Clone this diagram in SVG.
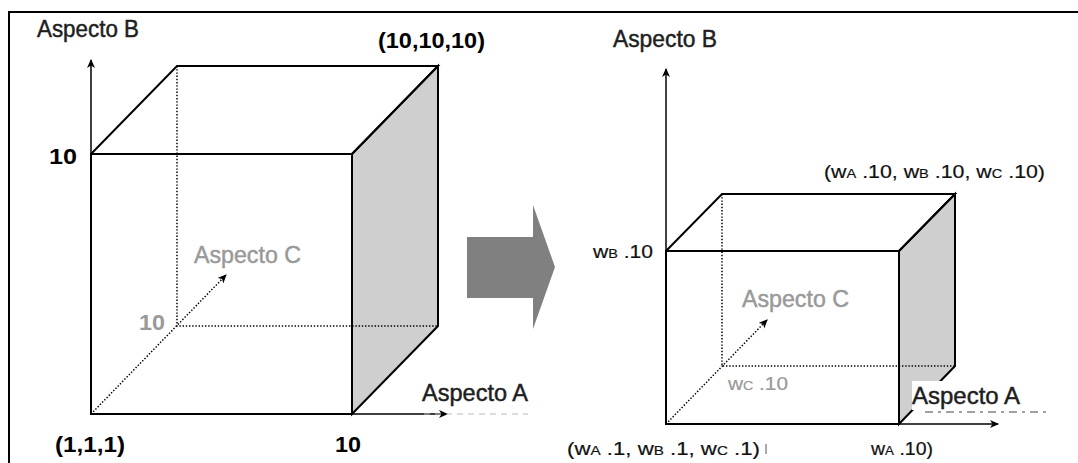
<svg xmlns="http://www.w3.org/2000/svg" width="1078" height="463" viewBox="0 0 1078 463">
  <style>
    .edge { fill: none; stroke: #000; stroke-width: 2; stroke-linejoin: miter; }
    .side { fill: #cfcfcf; stroke: #000; stroke-width: 2; }
    .axis { fill: none; stroke: #000; stroke-width: 1.5; }
    .hidden { fill: none; stroke: #000; stroke-width: 1.5; stroke-dasharray: 1.4 1.8; }
    .lbl { font-family: "Liberation Sans", Arial, sans-serif; fill: #1e1e1e; }
    .big { font-size: 23px; stroke: #1e1e1e; stroke-width: 0.45; }
    .bold { font-size: 22px; font-weight: bold; fill: #000; }
    .grey { fill: #999; stroke: #999; }
    .coord { font-size: 19px; fill: #111; stroke: #111; stroke-width: 0.2; }
    .sub { font-size: 13px; }
  </style>
  <defs>
    <marker id="tip" markerWidth="10" markerHeight="10" refX="8" refY="4" orient="auto" markerUnits="userSpaceOnUse">
      <path d="M0,0 L9,4 L0,8 L2.5,4 z" fill="#000"/>
    </marker>
  </defs>

  <!-- frame -->
  <rect x="9" y="12" width="1080" height="460" fill="#fff" stroke="#000" stroke-width="2"/>

  <!-- left cube: full 10x10x10 -->
  <g id="cube-full">
    <polygon class="side" points="352,154 438,66 438,326 352,414"/>
    <polyline class="edge" points="91,154 177,66 438,66 352,154 91,154"/>
    <rect class="edge" x="91" y="154" width="261" height="260"/>
    <polyline class="hidden" points="177,66 177,326 438,326"/>
  </g>

  <!-- right cube: weighted -->
  <g id="cube-weighted">
    <polygon class="side" points="899,251 955,194 955,366 899,424"/>
    <polyline class="edge" points="666,251 722,194 955,194 899,251 666,251"/>
    <rect class="edge" x="666" y="251" width="233" height="173"/>
    <polyline class="hidden" points="722,194 722,366 955,366"/>
  </g>

  <!-- axes -->
  <g id="connectors">
    <line class="axis" x1="91" y1="414" x2="91" y2="60" marker-end="url(#tip)"/>
    <line class="axis" x1="91" y1="414" x2="447" y2="414" marker-end="url(#tip)"/>
    <line class="hidden" x1="91" y1="414" x2="226" y2="275" marker-end="url(#tip)"/>
    <line class="axis" x1="666" y1="424" x2="666" y2="69" marker-end="url(#tip)"/>
    <line class="axis" x1="666" y1="424" x2="998" y2="424" marker-end="url(#tip)"/>
    <line class="hidden" x1="666" y1="424" x2="767" y2="320" marker-end="url(#tip)"/>
  </g>

  <!-- transformation arrow -->
  <g id="transform-arrow">
    <polygon points="467,237 533,237 533,205 555,267 533,329 533,298 467,298" fill="#808080"/>
  </g>

  <!-- left labels -->
  <g id="labels-full" class="lbl">
    <text class="big" x="37" y="37" textLength="102" lengthAdjust="spacingAndGlyphs">Aspecto B</text>
    <text class="bold" x="378" y="48" textLength="107" lengthAdjust="spacingAndGlyphs">(10,10,10)</text>
    <text class="bold" x="49" y="164" textLength="28" lengthAdjust="spacingAndGlyphs">10</text>
    <text class="big grey" x="194" y="263" textLength="107" lengthAdjust="spacingAndGlyphs">Aspecto C</text>
    <text class="bold" x="139" y="330" style="fill:#999" textLength="26" lengthAdjust="spacingAndGlyphs">10</text>
    <line x1="424" y1="414" x2="528" y2="414" stroke="#bbb" stroke-width="1.2" stroke-dasharray="6 5"/>
    <text class="big" x="422" y="401" textLength="106" lengthAdjust="spacingAndGlyphs">Aspecto A</text>
    <text class="bold" x="55" y="452" textLength="70" lengthAdjust="spacingAndGlyphs">(1,1,1)</text>
    <text class="bold" x="335" y="452" textLength="26" lengthAdjust="spacingAndGlyphs">10</text>
  </g>

  <!-- right labels -->
  <g id="labels-weighted" class="lbl">
    <text class="big" x="613" y="47" textLength="104" lengthAdjust="spacingAndGlyphs">Aspecto B</text>
    <text class="coord" x="824" y="178" textLength="221" lengthAdjust="spacingAndGlyphs">(w<tspan class="sub">A</tspan> .10, w<tspan class="sub">B</tspan> .10, w<tspan class="sub">C</tspan> .10)</text>
    <text class="coord" x="593" y="258" font-size="20" textLength="60" lengthAdjust="spacingAndGlyphs">w<tspan class="sub">B</tspan> .10</text>
    <text class="big grey" x="742" y="307" textLength="107" lengthAdjust="spacingAndGlyphs">Aspecto C</text>
    <text class="coord" x="728" y="390" style="fill:#999;stroke:#999" textLength="60" lengthAdjust="spacingAndGlyphs">w<tspan class="sub">C</tspan> .10</text>
    <rect x="912" y="381" width="112" height="29" fill="#fff"/>
    <line x1="925" y1="412" x2="1050" y2="412" stroke="#444" stroke-width="1.2" stroke-dasharray="8 5 3 5"/>
    <text class="big" x="912" y="404" textLength="108" lengthAdjust="spacingAndGlyphs">Aspecto A</text>
    <text class="coord" x="567" y="455" textLength="193" lengthAdjust="spacingAndGlyphs">(w<tspan class="sub">A</tspan> .1, w<tspan class="sub">B</tspan> .1, w<tspan class="sub">C</tspan> .1)</text>
    <line x1="766" y1="444" x2="766" y2="454" stroke="#555" stroke-width="1"/>
    <text class="coord" x="871" y="455" textLength="62" lengthAdjust="spacingAndGlyphs">w<tspan class="sub">A</tspan> .10)</text>
  </g>
</svg>
